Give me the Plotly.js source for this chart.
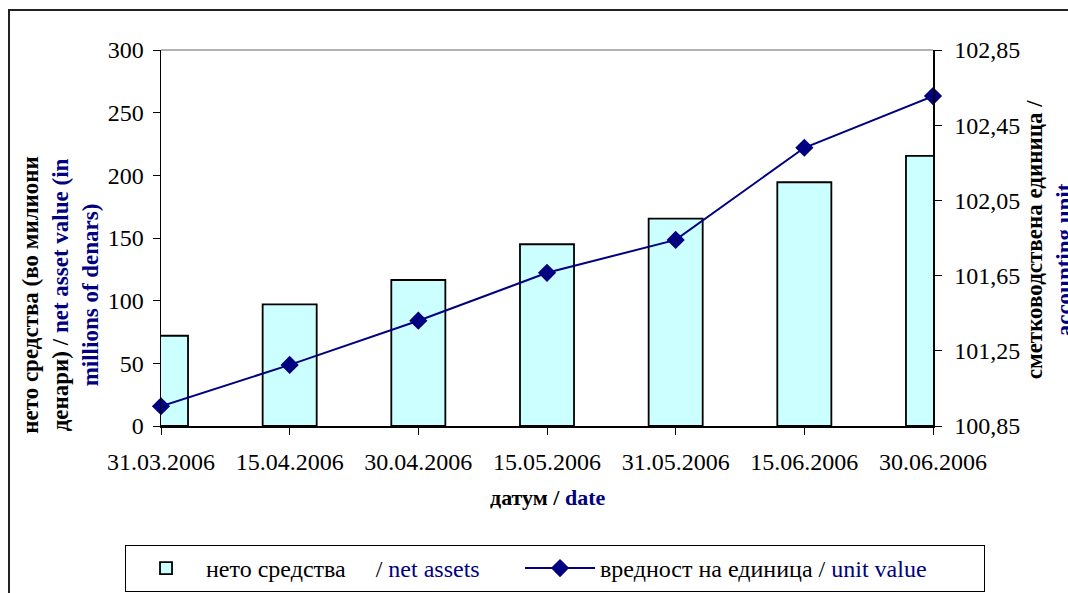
<!DOCTYPE html>
<html>
<head>
<meta charset="utf-8">
<script src="https://cdn.plot.ly/plotly-3.0.1.min.js"></script>
<style>
  html, body { margin: 0; padding: 0; overflow: hidden; background: #fff; }
  #frame { position: absolute; left: 8px; top: 9px; width: 1200px; height: 800px; border: 2px solid #222; }
  #chart { position: absolute; left: 0; top: 0; width: 1068px; height: 593px; }
</style>
</head>
<body>
<div id="frame"></div>
<div id="chart"></div>
<script>
const dates = ['31.03.2006', '15.04.2006', '30.04.2006', '15.05.2006', '31.05.2006', '15.06.2006', '30.06.2006'];
const netAssets = [72, 97, 116.5, 145, 165.5, 194.5, 215.5];
const unitValue = [100.955, 101.175, 101.41, 101.665, 101.84, 102.33, 102.605];
const leftTicks = [0, 50, 100, 150, 200, 250, 300];
const rightTicks = [100.85, 101.25, 101.65, 102.05, 102.45, 102.85];

const NAVY = '#000080';
const FONT = '"Liberation Serif", "Times New Roman", "DejaVu Serif", serif';
const NB = '\u00a0';

const traces = [
  {
    type: 'bar',
    x: dates,
    y: netAssets,
    name: 'нето средства' + NB.repeat(5) + '/ <span style="color:' + NAVY + '">net assets</span>',
    marker: { color: '#CCFFFF', line: { color: '#000', width: 1.8 } },
    legendwidth: 309,
    hoverinfo: 'x+y'
  },
  {
    type: 'scatter',
    mode: 'lines+markers',
    x: dates,
    y: unitValue,
    yaxis: 'y2',
    name: 'вредност на единица / <span style="color:' + NAVY + '">unit value</span>',
    line: { color: NAVY, width: 2 },
    marker: { symbol: 'diamond', size: 14, color: NAVY },
    legendwidth: 379,
    cliponaxis: false
  }
];

const layout = {
  width: 1068,
  height: 593,
  margin: { l: 161, r: 135, t: 50, b: 167, autoexpand: false },
  paper_bgcolor: 'rgba(0,0,0,0)',
  plot_bgcolor: '#fff',
  separators: ', ',
  font: { family: FONT, size: 24, color: '#000' },
  bargap: 0.58,
  showlegend: true,
  xaxis: {
    type: 'category',
    range: [0, dates.length - 1],
    showline: true, linecolor: '#000', linewidth: 1.5,
    ticks: 'outside', ticklen: 7, tickcolor: '#000',
    ticklabelstandoff: 7,
    showgrid: false, zeroline: false,
    automargin: false,
    tickfont: { family: FONT, size: 24 }
  },
  yaxis: {
    range: [0, 300],
    tickvals: leftTicks,
    showline: true, linecolor: '#000', linewidth: 1.5,
    ticks: 'outside', ticklen: 7, tickcolor: '#000',
    ticklabelstandoff: 4,
    showgrid: false, zeroline: false,
    automargin: false,
    tickfont: { family: FONT, size: 24 }
  },
  yaxis2: {
    overlaying: 'y',
    side: 'right',
    range: [100.85, 102.85],
    tickvals: rightTicks,
    tickformat: '.2f',
    showline: true, linecolor: '#000', linewidth: 1.5,
    ticks: 'outside', ticklen: 7, tickcolor: '#000',
    ticklabelstandoff: 8,
    showgrid: false, zeroline: false,
    automargin: false,
    tickfont: { family: FONT, size: 24 }
  },
  legend: {
    orientation: 'h',
    x: -0.0466, xanchor: 'left',
    y: -0.3165, yanchor: 'top',
    bordercolor: '#000', borderwidth: 1,
    bgcolor: '#fff',
    font: { family: FONT, size: 24 },
    itemwidth: 70
  },
  shapes: [
    { type: 'line', xref: 'paper', yref: 'paper', x0: 0, x1: 1, y0: 1, y1: 1,
      line: { color: '#999', width: 1.5 } }
  ],
  annotations: [
    {
      xref: 'paper', yref: 'paper', x: 0.5, y: -0.189,
      xanchor: 'center', yanchor: 'middle', showarrow: false,
      text: '<b>датум / <span style="color:' + NAVY + '">date</span></b>',
      font: { family: FONT, size: 22 }
    },
    {
      xref: 'paper', yref: 'paper', x: -0.1295, y: 0.349,
      xanchor: 'center', yanchor: 'middle', showarrow: false, textangle: -90,
      text: '<b>нето средства (во милиони<br>денари) / <span style="color:' + NAVY + '">net asset value (in</span><br><span style="color:' + NAVY + '">millions of denars)</span></b>',
      font: { family: FONT, size: 23 }
    },
    {
      xref: 'paper', yref: 'paper', x: 1.152, y: 0.495,
      xanchor: 'center', yanchor: 'middle', showarrow: false, textangle: -90,
      text: '<b>сметководствена единица /<br><span style="color:' + NAVY + '">accounting unit</span>' + NB.repeat(7) + '</b>',
      font: { family: FONT, size: 23 }
    }
  ]
};

Plotly.newPlot('chart', traces, layout, { displayModeBar: false, staticPlot: true });
</script>
</body>
</html>
